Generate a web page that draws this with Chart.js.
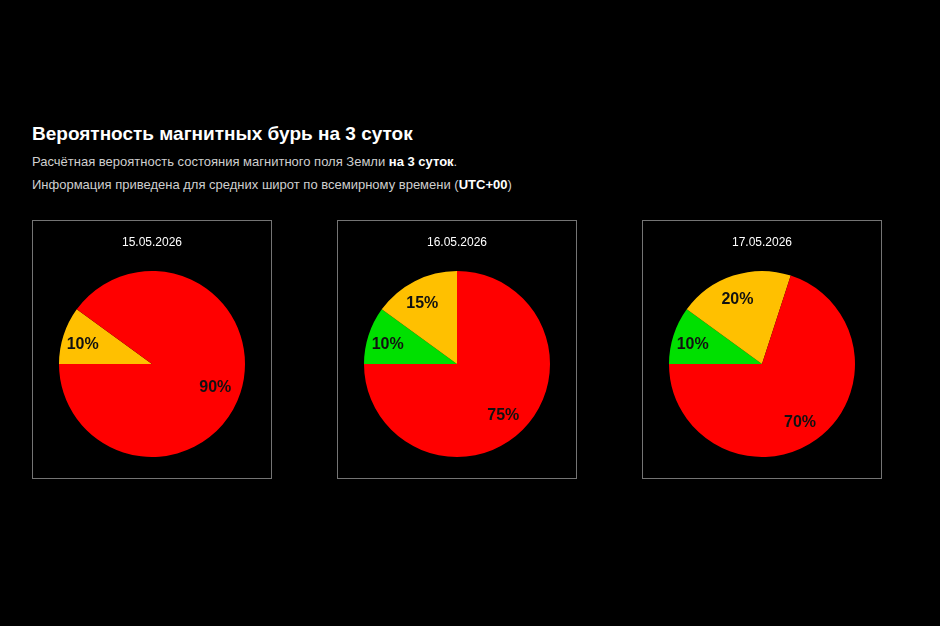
<!DOCTYPE html>
<html lang="ru">
<head>
<meta charset="utf-8">
<title>Вероятность магнитных бурь</title>
<script src="https://cdn.jsdelivr.net/npm/chart.js@4.4.1/dist/chart.umd.min.js"></script>
<style>
  html, body { margin: 0; padding: 0; background: #000; }
  body { width: 940px; height: 626px; position: relative; overflow: hidden;
         font-family: "Liberation Sans", Arial, sans-serif; }
  h1 { position: absolute; left: 32px; top: 124px; margin: 0;
       font-size: 19px; line-height: 19px; font-weight: bold; color: #fff; }
  .sub { position: absolute; left: 32px; margin: 0; font-size: 13px; line-height: 16px; color: #cfcfcf; }
  .sub b { color: #fff; }
  .box { position: absolute; top: 220px; width: 238px; height: 257px; border: 1px solid #747474; }
</style>
</head>
<body>
<h1>Вероятность магнитных бурь на 3 суток</h1>
<p class="sub" style="top:154px">Расчётная вероятность состояния магнитного поля Земли <b>на 3 суток</b>.</p>
<p class="sub" style="top:177px">Информация приведена для средних широт по всемирному времени (<b>UTC+00</b>)</p>

<div class="box" style="left:32px"><canvas id="pie0"></canvas></div>
<div class="box" style="left:337px"><canvas id="pie1"></canvas></div>
<div class="box" style="left:642px"><canvas id="pie2"></canvas></div>

<script>
'use strict';

// ---- data ----
const dates = ['15.05.2026', '16.05.2026', '17.05.2026'];
const levels = ['green', 'yellow', 'red'];
const greenValues  = [0, 10, 10];
const yellowValues = [10, 15, 20];
const redValues    = [90, 75, 70];

const sliceColors = ['#00e000', '#ffc000', '#ff0000'];

// percent labels inside the slices
const sliceLabels = {
  id: 'sliceLabels',
  afterDatasetsDraw(chart) {
    const ctx = chart.ctx;
    const meta = chart.getDatasetMeta(0);
    const vals = chart.data.datasets[0].data;
    ctx.save();
    ctx.font = 'bold 16px "Liberation Sans", Arial, sans-serif';
    ctx.fillStyle = '#111';
    ctx.textAlign = 'center';
    ctx.textBaseline = 'middle';
    meta.data.forEach((arc, i) => {
      if (!vals[i]) return;
      const p = arc.getProps(['x', 'y', 'startAngle', 'endAngle', 'outerRadius'], true);
      const mid = (p.startAngle + p.endAngle) / 2;
      const r = p.outerRadius * 0.75;
      ctx.fillText(vals[i] + '%', p.x + Math.cos(mid) * r - 3, p.y + Math.sin(mid) * r + 2);
    });
    ctx.restore();
  }
};

const _charts = {};

function renderPie(i) {
  const canvas = document.getElementById('pie' + i);
  canvas.width = 238; canvas.height = 257;
  _charts[i] = new Chart(canvas.getContext('2d'), {
    type: 'pie',
    data: {
      labels: levels,
      datasets: [{
        data: [greenValues[i], yellowValues[i], redValues[i]],
        backgroundColor: sliceColors,
        borderWidth: 0
      }]
    },
    options: {
      responsive: false,
      animation: false,
      rotation: 270,
      layout: { padding: { left: 26, right: 26, top: 0, bottom: 21 } },
      plugins: {
        legend: { display: false },
        tooltip: { enabled: false },
        title: {
          display: true, text: dates[i], color: '#fff',
          font: { family: '"Liberation Sans", Arial, sans-serif', size: 12, weight: 'normal' },
          padding: { top: 14, bottom: 21.6 }
        }
      }
    },
    plugins: [sliceLabels]
  });
}

dates.forEach((d, i) => renderPie(i));
</script>
</body>
</html>
